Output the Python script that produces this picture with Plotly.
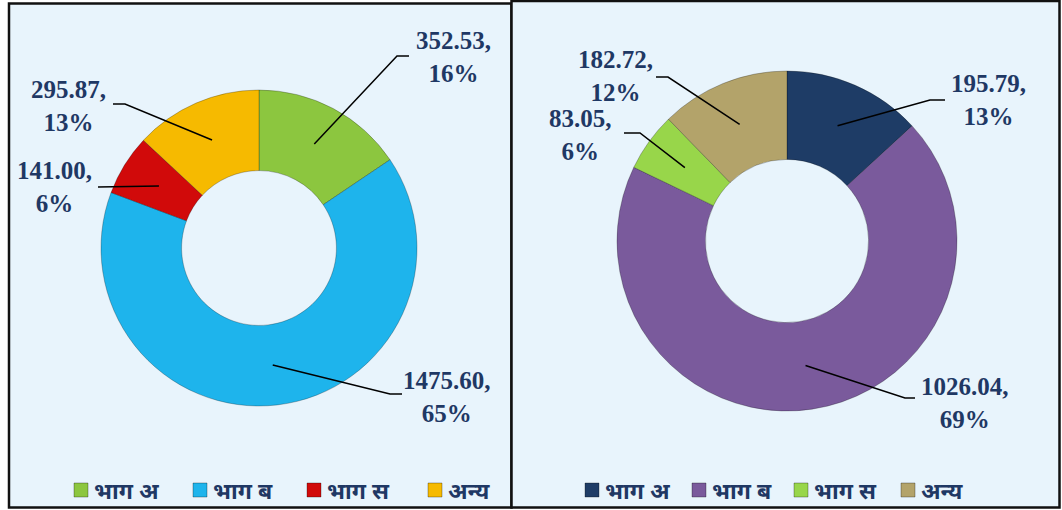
import math
import plotly.graph_objects as go

W, H = 1062, 510

# ---- data ----
categories = ["भाग अ", "भाग ब", "भाग स", "अन्य"]
left_values = [352.53, 1475.60, 141.00, 295.87]
left_pct_labels = ["16%", "65%", "6%", "13%"]
right_values = [195.79, 1026.04, 83.05, 182.72]
right_pct_labels = ["13%", "69%", "6%", "12%"]

left_colors = ["#8CC63F", "#1EB4EC", "#D10A0A", "#F6BA00"]
right_colors = ["#1E3C66", "#7A5A9C", "#98D64A", "#B3A36A"]

# ---- layout styling (pixel geometry) ----
BG = "#E8F4FC"
TXT = "#1F3864"
left_geo = dict(cx=259, cy=248, R=158, hole=0.49)
right_geo = dict(cx=787, cy=241, R=170, hole=0.48)
# label centre, elbow, leader-end (px) per slice
left_lbl = [((453, 57), (397, 56), (409, 56)),
            ((447, 397), (390, 394), (402, 394)),
            ((54, 187), (98, 187), (98, 187)),
            ((68, 106), (125, 104), (113, 104))]
right_lbl = [((988, 100), (930, 100), (945, 100)),
             ((965, 403), (905, 398), (915, 398)),
             ((580, 135), (640, 133), (624, 133)),
             ((615, 76), (668, 77), (656, 77))]


def px(x):
    return x / W


def py(y):
    return 1 - y / H


fig = go.Figure()
shapes = []
annotations = []

# panel backgrounds
shapes.append(dict(type="rect", xref="paper", yref="paper", layer="below",
                   x0=px(9), x1=px(511.5), y0=py(507.5), y1=py(3.5),
                   fillcolor=BG, line=dict(color="#111111", width=2.5)))
shapes.append(dict(type="rect", xref="paper", yref="paper", layer="below",
                   x0=px(511.5), x1=px(1059.5), y0=py(507.5), y1=py(1),
                   fillcolor=BG, line=dict(color="#111111", width=2.5)))


def add_donut(values, pct, colors, geo, lbl):
    cx, cy, R = geo["cx"], geo["cy"], geo["R"]
    fig.add_trace(go.Pie(
        labels=categories, values=values, hole=geo["hole"], sort=False,
        direction="clockwise", rotation=0, textinfo="none", showlegend=False,
        marker=dict(colors=colors, line=dict(color="rgba(0,0,0,0.25)", width=1)),
        domain=dict(x=[px(cx - R), px(cx + R)], y=[py(cy + R), py(cy - R)]),
        hoverinfo="label+value+percent"))
    total = sum(values)
    cum = 0
    rmid = R * (1 + geo["hole"]) / 2
    for i, v in enumerate(values):
        mid = (cum + v / 2) / total * 2 * math.pi
        cum += v
        sx = cx + rmid * math.sin(mid)
        sy = cy - rmid * math.cos(mid)
        (lx, ly), (ex, ey), (tx, ty) = lbl[i]
        path = f"M {px(sx)},{py(sy)} L {px(ex)},{py(ey)} L {px(tx)},{py(ty)}"
        shapes.append(dict(type="path", xref="paper", yref="paper", path=path,
                           line=dict(color="black", width=1.5)))
        annotations.append(dict(
            x=px(lx), y=py(ly), xref="paper", yref="paper", showarrow=False,
            xanchor="center", yanchor="middle", align="center",
            text=f"<b>{v:.2f},<br>{pct[i]}</b>",
            font=dict(family="Liberation Serif, Times New Roman, serif",
                      size=25, color=TXT)))


add_donut(left_values, left_pct_labels, left_colors, left_geo, left_lbl)
add_donut(right_values, right_pct_labels, right_colors, right_geo, right_lbl)

# manual legends
left_leg_x = [74, 193, 307, 428]
right_leg_x = [585, 692, 794, 901]
for xs, cols in ((left_leg_x, left_colors), (right_leg_x, right_colors)):
    for i, x0 in enumerate(xs):
        shapes.append(dict(type="rect", xref="paper", yref="paper",
                           x0=px(x0), x1=px(x0 + 14), y0=py(497), y1=py(483),
                           fillcolor=cols[i], line=dict(color="rgba(0,0,0,0.3)", width=1)))
        annotations.append(dict(
            x=px(x0 + 18), y=py(490), xref="paper", yref="paper", showarrow=False,
            xanchor="left", yanchor="middle", text="<b>" + categories[i] + "</b>",
            font=dict(family="Noto Sans, DejaVu Sans, sans-serif", size=23, color=TXT)))

fig.update_layout(
    width=W, height=H, margin=dict(l=0, r=0, t=0, b=0),
    paper_bgcolor="white", plot_bgcolor="white",
    shapes=shapes, annotations=annotations, showlegend=False)

fig.write_html(
    "out.html",
    config={"displayModeBar": False},
    post_script="document.body.style.margin='0';document.body.style.overflow='hidden';")
